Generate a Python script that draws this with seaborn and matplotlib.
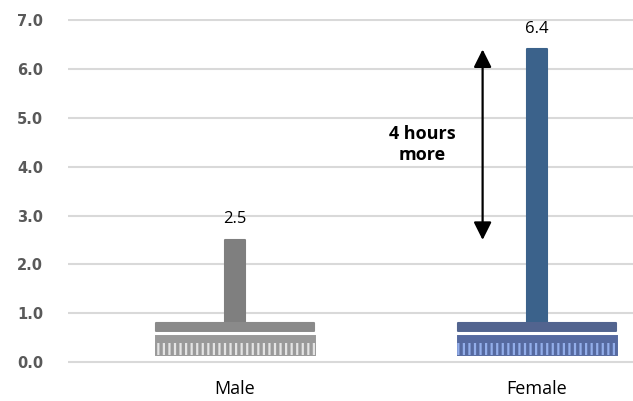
import matplotlib
matplotlib.use('Agg')
import numpy as np
import pandas as pd
import seaborn as sns
import matplotlib.pyplot as plt

# data
categories = ['Male', 'Female']
hours = [2.5, 6.4]
gap_text = '4 hours\nmore'

# toothbrush colours per category
handle_colors = ['#7f7f7f', '#2e6298']
head_colors = ['#8a8a8a', '#52648f']
bristle_colors = ['#9a9a9a', '#566aa0']
bristle_tips = ['#e4e4e4', '#93aeea']

sns.set_style('white')
plt.rcParams['hatch.linewidth'] = 1.6

df = pd.DataFrame({'sex': categories, 'hours': hours})

fig = plt.figure(figsize=(6.33, 4.01), dpi=100)
ax = fig.add_axes([0.1074, 0.0935, 0.8926, 0.860])

# handle = the actual bar
sns.barplot(
    data=df, x='sex', y='hours', hue='sex', palette=handle_colors,
    width=0.066, legend=False, ax=ax, zorder=2,
)
handle_bars = list(ax.containers)
for bars in handle_bars:
    for p in bars:
        top = p.get_y() + p.get_height()
        # handle starts at the brush head, not at zero
        p.set_y(0.7)
        p.set_height(top - 0.7)
        p.set_edgecolor(p.get_facecolor())
        p.set_linewidth(1.5)
        p.set_joinstyle('round')

# brush head, bristle block and bristles
x = np.arange(len(categories))
ax.bar(x, 0.16, bottom=0.645, width=0.523, color=head_colors,
       edgecolor=head_colors, linewidth=1.5, joinstyle='round', zorder=3)
ax.bar(x, 0.49, bottom=0.11, width=0.54, color=bristle_colors,
       edgecolor='white', linewidth=2.2, zorder=3)
ax.bar(x, 0.245, bottom=0.143, width=0.53, color=bristle_colors,
       edgecolor=bristle_tips, hatch='|||', linewidth=0, zorder=4)

for bars in handle_bars:
    ax.bar_label(bars, fmt='%.1f', padding=9, fontsize=12,
                 family='Open Sans', color='black')

# difference arrow
ax.annotate('', xy=(0.82, hours[1]), xytext=(0.82, hours[0]),
            arrowprops=dict(arrowstyle='<|-|>,head_length=0.4,head_width=0.2',
                            mutation_scale=27, color='black', lw=1.6,
                            shrinkA=0, shrinkB=0))
ax.text(0.62, np.mean(hours), gap_text, ha='center', va='center', color='black',
        fontsize=13, fontweight='bold', family='Open Sans', linespacing=1.25)

ax.set_xlim(-0.553, 1.318)
ax.set_ylim(-0.03, 7.03)
ax.set_yticks(np.arange(0, 8))
ax.yaxis.set_major_formatter('{x:.1f}')
ax.grid(axis='y', color='#d9d9d9', lw=1.5)
ax.set_axisbelow(True)
sns.despine(left=True, bottom=True)
ax.set_xlabel('')
ax.set_ylabel('')
ax.tick_params(length=0)
ax.tick_params(axis='y', pad=18, labelsize=10.5, labelcolor='#595959')
ax.tick_params(axis='x', pad=12, labelsize=13, labelcolor='black')
for t in ax.get_yticklabels():
    t.set_fontweight('bold')
    t.set_family('DejaVu Sans')
for t in ax.get_xticklabels():
    t.set_family('Open Sans')

fig.savefig('out.png', dpi=100)
